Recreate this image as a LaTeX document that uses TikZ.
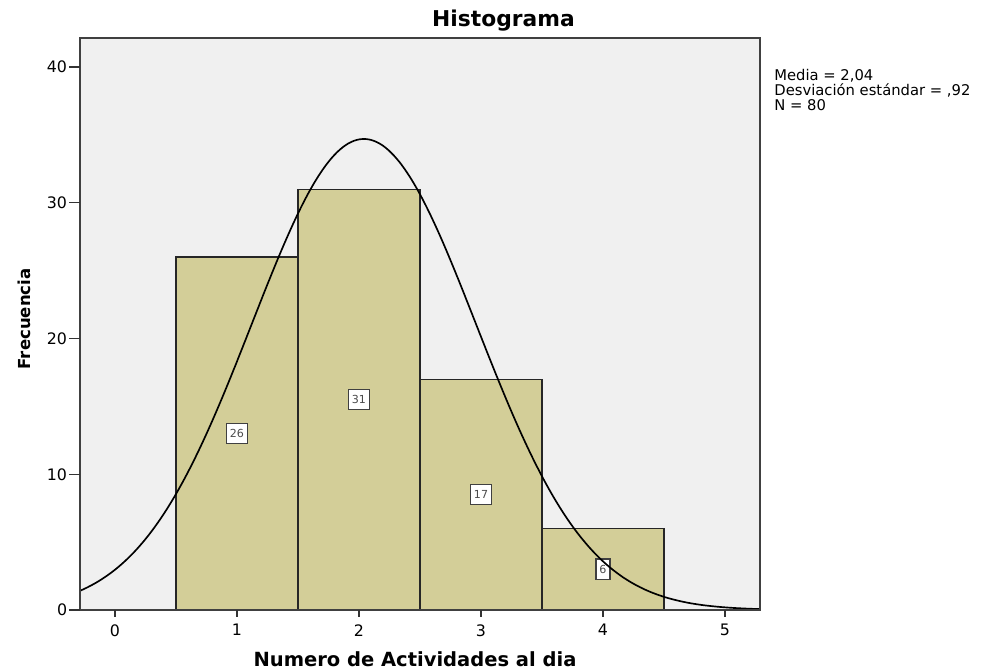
\documentclass[tikz,border=0pt]{standalone}
\usepackage{fontspec}
\setmainfont{DejaVu Sans}
\usetikzlibrary{calc}
\definecolor{fondo}{RGB}{240,240,240}
\definecolor{barra}{RGB}{211,206,152}

\begin{document}
\begin{tikzpicture}[x=2.44cm,y=0.2715cm,
  barras/.style={draw=black!85,fill=barra,line width=0.7pt},
  cuenta/.style={draw=black!75,fill=white,line width=0.8pt,text=black!70,
    font=\fontsize{6.3}{6.5}\selectfont,inner xsep=2pt,inner ysep=0pt,minimum height=11.5pt},
  marca/.style={line width=0.7pt,draw=black!80},
  numero/.style={font=\fontsize{9}{9}\selectfont,inner sep=0pt}]
\useasboundingbox (-0.9426,-4.494) rectangle (7.1148,44.936);

% area del grafico
\coordinate (so) at (-0.287,0);
\coordinate (ne) at (5.287,42.14);
\fill[fondo] (so) rectangle (ne);

% barras y frecuencias
\foreach \x/\n in {1/26,2/31,3/17,4/6}{
  \draw[barras] (\x-0.5,0) rectangle (\x+0.5,\n);
  \node[cuenta] (f\x) at (\x,\n/2) {\n};
}

% curva normal
\draw[line width=0.95pt,domain=-0.287:5.287,samples=120,smooth]
  plot (\x,{80/(0.92*sqrt(2*pi))*exp(-((\x-2.04)^2)/1.6928)});

\draw[draw=black!75,line width=0.9pt] (so) rectangle (ne);

% ejes
\foreach \y in {0,10,20,30,40}{
  \draw[marca] (-0.287,\y) -- (-0.377,\y);
  \node[numero,anchor=east] (ey\y) at (-0.39,\y) {\y};
}
\foreach \x in {0,...,5}{
  \draw[marca] (\x,0) -- (\x,-0.52);
  \node[numero,anchor=north] (ex\x) at (\x,-1.03) {\x};
}

\node[font=\bfseries\fontsize{12.4}{12.4}\selectfont,anchor=base] (titulo) at (3.184,42.95) {Histograma};
\node[font=\bfseries\fontsize{11.1}{11.1}\selectfont,anchor=base] (xlab) at (2.459,-4.125) {Numero de Actividades al dia};
\node[font=\bfseries\fontsize{9.4}{9.4}\selectfont,rotate=90] (ylab) at (-0.745,21.44) {Frecuencia};

\node[anchor=north west,inner sep=0pt,align=left,font=\fontsize{8.4}{6.6}\selectfont] (leyenda) at (5.402,39.85)
  {Media = 2,04\\Desviación estándar = ,92\\N = 80};
\end{tikzpicture}
\end{document}
